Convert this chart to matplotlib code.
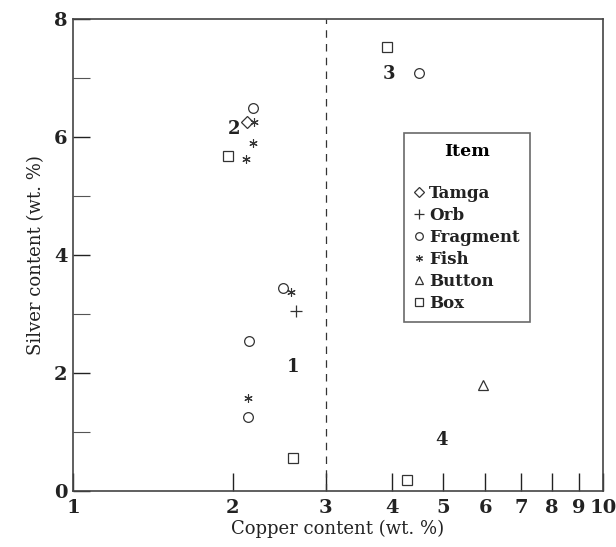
import matplotlib
matplotlib.use("Agg")
import matplotlib.pyplot as plt
from matplotlib.ticker import FixedLocator, FixedFormatter, NullLocator
from matplotlib.lines import Line2D

plt.rcParams['font.family'] = ['DejaVu Serif']

# Data (copper %, silver %)
tamga_cu = [2.13]
tamga_ag = [6.26]
orb_cu = [2.64]
orb_ag = [3.05]
fragment_cu = [2.19, 2.49, 2.15, 2.14, 4.50]
fragment_ag = [6.50, 3.44, 2.54, 1.25, 7.08]
fish_cu = [2.20, 2.19, 2.12, 2.58, 2.14]
fish_ag = [6.25, 5.89, 5.63, 3.37, 1.58]
button_cu = [5.95]
button_ag = [1.80]
box_cu = [1.96, 2.60, 3.92, 4.27]
box_ag = [5.68, 0.56, 7.53, 0.19]

group_labels = ["1", "2", "3", "4"]
group_x = [2.60, 2.01, 3.95, 4.95]
group_y = [2.10, 6.14, 7.06, 0.86]

x_ticks = [1, 2, 3, 4, 5, 6, 7, 8, 9, 10]
y_ticks = [0, 2, 4, 6, 8]

fig = plt.figure(figsize=(6.16, 5.47), dpi=100)
ax = fig.add_axes([73/616, 1-491/547, 530/616, 472/547])
ax.set_xscale('log')
ax.set_xlim(1, 10)
ax.set_ylim(0, 8)

c = '#333333'
ms = 7
asterisk = (6, 2, 0)
ax.plot(tamga_cu, tamga_ag, ls='none', marker='D', ms=6, mfc='none', mec=c, mew=0.9)
ax.plot(orb_cu, orb_ag, ls='none', marker='+', ms=8, mec=c, mew=0.9)
ax.plot(fragment_cu, fragment_ag, ls='none', marker='o', ms=ms, mfc='none', mec=c, mew=0.9)
ax.plot(fish_cu, fish_ag, ls='none', marker=asterisk, ms=6, mec=c, mew=0.8)
ax.plot(button_cu, button_ag, ls='none', marker='^', ms=7, mfc='none', mec=c, mew=0.9)
ax.plot(box_cu, box_ag, ls='none', marker='s', ms=7, mfc='none', mec=c, mew=0.9)

for t, gx, gy in zip(group_labels, group_x, group_y):
    ax.text(gx, gy, t, fontsize=13, fontweight='bold', color='#222222', ha='center', va='center')

ax.axvline(3, color='#333333', ls=(0, (6, 5)), lw=0.9)

ax.xaxis.set_major_locator(FixedLocator(x_ticks))
ax.xaxis.set_major_formatter(FixedFormatter([str(v) for v in x_ticks]))
ax.xaxis.set_minor_locator(NullLocator())
ax.yaxis.set_major_locator(FixedLocator(y_ticks))
ax.yaxis.set_minor_locator(FixedLocator([1, 3, 5, 7]))

ax.tick_params(axis='x', which='major', direction='in', length=13, width=1, labelsize=14, pad=6, color='#222222')
ax.tick_params(axis='y', which='major', direction='in', length=12, width=1, labelsize=14, pad=4, color='#222222')
ax.tick_params(axis='y', which='minor', direction='in', length=12, width=0.8, color='#555555')
for lab in ax.get_xticklabels() + ax.get_yticklabels():
    lab.set_fontweight('bold')
    lab.set_color('#222222')

for s in ax.spines.values():
    s.set_color('#444444')
    s.set_linewidth(1.2)

ax.set_xlabel('Copper content (wt. %)', fontsize=13, color='#222222', labelpad=2)
ax.set_ylabel('Silver content (wt. %)', fontsize=13, color='#222222', labelpad=6)

handles = [
    Line2D([], [], ls='none', marker='D', ms=5, mfc='none', mec=c, mew=0.9),
    Line2D([], [], ls='none', marker='+', ms=7, mec=c, mew=0.9),
    Line2D([], [], ls='none', marker='o', ms=5.5, mfc='none', mec=c, mew=0.9),
    Line2D([], [], ls='none', marker=asterisk, ms=5, mec=c, mew=0.8),
    Line2D([], [], ls='none', marker='^', ms=5.5, mfc='none', mec=c, mew=0.9),
    Line2D([], [], ls='none', marker='s', ms=5.5, mfc='none', mec=c, mew=0.9),
]
labels = ['Tamga', 'Orb', 'Fragment', 'Fish', 'Button', 'Box']
leg = ax.legend(handles, labels, title='Item\n', loc='upper left',
                bbox_to_anchor=((404-73)/530, 1-(133-19)/472),
                frameon=True, fancybox=False, edgecolor='#444444',
                prop={'size': 12, 'weight': 'bold'}, title_fontproperties={'size': 12.5, 'weight': 'bold'},
                handlelength=0.6, handletextpad=0.3, labelspacing=0.3,
                borderpad=0.6, borderaxespad=0)
leg.get_frame().set_linewidth(1.2)
for t in leg.get_texts():
    t.set_color('#222222')

fig.savefig('out.png', dpi=100)
